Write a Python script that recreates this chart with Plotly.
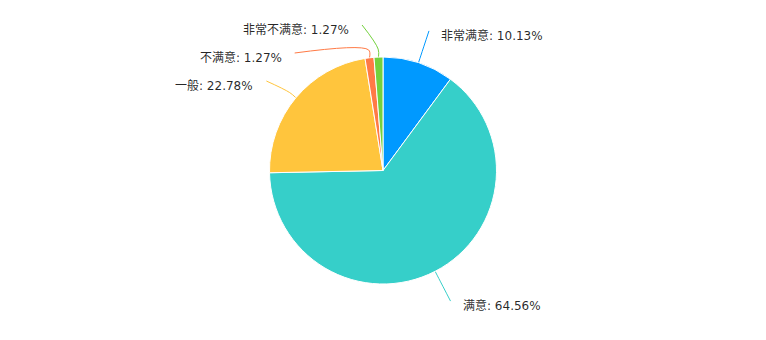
import math
import plotly.graph_objects as go

# Survey results: satisfaction levels and counts
categories = ["非常满意", "满意", "一般", "不满意", "非常不满意"]
counts = [8, 51, 18, 1, 1]
colors = ["#0099FF", "#36CFC9", "#FFC53D", "#FF7A45", "#73D13D"]

W, H = 766, 340
CX, CY = 383.0, 170.5      # pie centre (px from left / top)
R = 113.5                  # pie radius (px)
R_MID = R + 8              # where leader lines bend
R_LABEL = 147              # radius of label anchor ring
LINE_GAP = 28              # minimal vertical spacing between labels

total = sum(counts)
pcts = [c / total * 100 for c in counts]

fig = go.Figure()

# Pie sized so its domain maps onto the chosen centre/radius
fig.add_trace(go.Pie(
    labels=categories,
    values=counts,
    sort=False,
    direction="clockwise",
    rotation=0,
    marker=dict(colors=colors, line=dict(color="#ffffff", width=1)),
    textinfo="none",
    hovertemplate="%{label}: %{percent:.2%}<extra></extra>",
    showlegend=False,
    domain=dict(x=[(CX - R) / W, (CX + R) / W],
                y=[(H - CY - R) / H, (H - CY + R) / H]),
))

# Compute mid angle of each slice (clockwise from 12 o'clock)
labels_info = []
acc = 0.0
for name, val, pct, col in zip(categories, counts, pcts, colors):
    a0 = acc / total * 2 * math.pi
    acc += val
    a1 = acc / total * 2 * math.pi
    mid = (a0 + a1) / 2
    s, c = math.sin(mid), math.cos(mid)
    labels_info.append(dict(
        name=name, pct=pct, col=col, s=s, c=c,
        right=s >= 0,
        y=CY - R_LABEL * c,
    ))

# Spread labels on each side so they do not overlap (top-down pass)
for side in (True, False):
    group = sorted([d for d in labels_info if d["right"] == side], key=lambda d: d["y"])
    prev = None
    for d in group:
        y = max(d["y"], CY - R_LABEL + 1.5)
        if prev is not None:
            y = max(y, prev + LINE_GAP)
        d["y"] = y
        prev = y

for d in labels_info:
    dy = d["y"] - CY
    dx = math.sqrt(max(R_LABEL ** 2 - dy ** 2, 0))
    d["x"] = CX + dx if d["right"] else CX - dx

    ax, ay = CX + R * d["s"], CY - R * d["c"]
    mx, my = CX + R_MID * d["s"], CY - R_MID * d["c"]
    fig.add_trace(go.Scatter(
        x=[ax, mx, d["x"]], y=[ay, my, d["y"]],
        mode="lines",
        line=dict(color=d["col"], width=1, shape="spline", smoothing=1.0),
        hoverinfo="skip", showlegend=False,
        xaxis="x", yaxis="y",
    ))
    fig.add_annotation(
        x=d["x"], y=d["y"] + 4.5, xref="x", yref="y",
        text=f"{d['name']}: {d['pct']:.2f}%",
        showarrow=False,
        xanchor="left" if d["right"] else "right",
        yanchor="middle",
        xshift=10 if d["right"] else -11,
        font=dict(family="DejaVu Sans, Noto Sans CJK SC, sans-serif",
                  size=12, color="rgba(0,0,0,0.85)"),
    )

fig.update_layout(
    width=W, height=H,
    margin=dict(l=0, r=0, t=0, b=0),
    paper_bgcolor="#ffffff",
    plot_bgcolor="rgba(0,0,0,0)",
    xaxis=dict(range=[0, W], visible=False, fixedrange=True),
    yaxis=dict(range=[H, 0], visible=False, fixedrange=True),
)

fig.write_html("out.html")
